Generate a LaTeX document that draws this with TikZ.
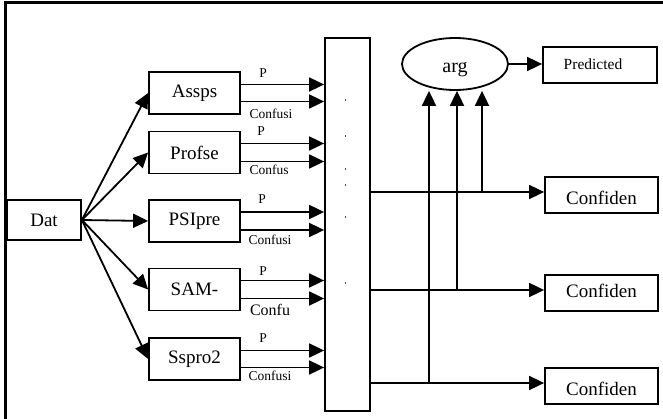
\documentclass[tikz,border=0pt]{standalone}
\usepackage{fontspec}
\setmainfont{Liberation Serif}
\usetikzlibrary{arrows.meta,shapes.geometric}
\begin{document}
\begin{tikzpicture}[x=1pt,y=-1pt,
  box/.style={draw,line width=1.8pt,rectangle,inner sep=0pt,minimum width=91pt,minimum height=42pt,font=\fontsize{19}{19}\selectfont},
  cbox/.style={draw,line width=1.8pt,rectangle,inner sep=0pt,minimum width=113pt,minimum height=36pt,text height=13pt,text depth=4pt,font=\fontsize{19}{19}\selectfont},
  lab/.style={inner sep=0pt,font=\fontsize{13.5}{13.5}\selectfont},
  arr/.style={line width=1.8pt,-{Triangle[length=15pt,width=14pt]}},
  dotmark/.style={fill=black!70,draw=none}
]
\useasboundingbox (0,0) rectangle (663,419);
% frame
\draw[line width=3pt] (5,419) -- (5,3) -- (663,3);

% nodes
\node[box,minimum width=74pt,minimum height=40pt,text height=13pt,text depth=4pt] (dat) at (44,220) {\raisebox{-2pt}{Dat}};
\node[box] (assps) at (194.5,93) {Assps};
\node[box] (profse) at (194.5,152.5) {Profse};
\node[box] (psipre) at (194.5,221) {PSIpre};
\node[box] (sam) at (194.5,289.5) {SAM-};
\node[box] (sspro) at (194.5,359) {Sspro2};
\node[draw,line width=1.8pt,rectangle,inner sep=0pt,minimum width=45pt,minimum height=373pt] (agg) at (347.5,224.5) {};
\node[draw,line width=1.8pt,ellipse,inner sep=0pt,minimum width=106pt,minimum height=52pt,text height=13pt,text depth=3pt,font=\fontsize{20}{20}\selectfont] (arg) at (455,64) {\raisebox{-4pt}{arg}};
\node[cbox,minimum width=114pt,font=\fontsize{15.5}{15.5}\selectfont] (pred) at (600,65) {\hspace{-14pt}Predicted};
\node[cbox] (c1) at (601.5,195) {\raisebox{-5pt}{Confiden}};
\node[cbox] (c2) at (601.5,293) {Confiden};
\node[cbox] (c3) at (601.5,386) {\raisebox{-5pt}{Confiden}};

% labels
\node[lab] (p1) at (263,73) {P};
\node[lab] (f1) at (271,114) {Confusi};
\node[lab] (p2) at (261,131) {P};
\node[lab] (f2) at (269,170) {Confus};
\node[lab] (p3) at (262,199) {P};
\node[lab] (f3) at (270,240) {Confusi};
\node[lab] (p4) at (263,271) {P};
\node[lab,font=\fontsize{16}{16}\selectfont] (f4) at (270,310) {Confu};
\node[lab] (p5) at (263,338) {P};
\node[lab] (f5) at (270,376) {Confusi};

% fan-out from Dat
\foreach \t in {assps,profse,psipre,sam,sspro}
  \draw[arr] (dat.east) -- (\t.west);

% box outputs
\foreach \t/\d in {assps/8.5,profse/9,psipre/9,sam/9,sspro/8.5}{
  \draw[arr] ([yshift=-\d pt]\t.east) -- ([yshift=-\d pt]\t.east -| agg.west);
  \draw[arr] ([yshift=\d pt]\t.east) -- ([yshift=\d pt]\t.east -| agg.west);
}

% dots inside tall box
\foreach \yy in {100,136,169,185,217,283}
  \fill[dotmark] (344.5,\yy-1) rectangle (345.5,\yy+1);

% outputs to Confiden boxes
\coordinate (j1) at (482,192);
\coordinate (j2) at (457,290);
\coordinate (j3) at (429,383);
\draw[arr] (agg.east |- j1) -- (j1 -| c1.west);
\draw[arr] (agg.east |- j2) -- (j2 -| c2.west);
\draw[arr] (agg.east |- j3) -- (j3 -| c3.west);
\draw[arr] (j1) -- (j1 |- arg.south);
\draw[arr] (j2) -- (j2 |- arg.south);
\draw[arr] (j3) -- (j3 |- arg.south);

% arg to predicted
\draw[arr] (arg.east) -- (arg.east -| pred.west);
\end{tikzpicture}
\end{document}
